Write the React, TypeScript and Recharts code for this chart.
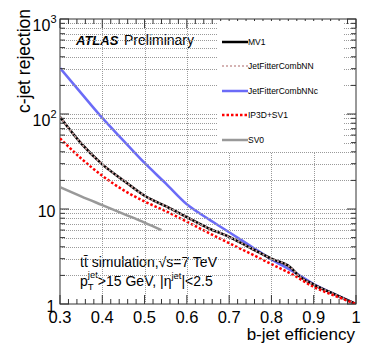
import { LineChart, Line, XAxis, YAxis, Legend } from 'recharts';

// b-jet efficiency (x) and c-jet rejection (y) for each tagger
const effMv1 = [0.3, 0.35, 0.4, 0.45, 0.5, 0.55, 0.6, 0.65, 0.7, 0.75, 0.8, 0.845, 0.867, 0.9, 0.95, 1.0];
const rejMv1 = [93, 49, 29.5, 20, 13.8, 10.7, 8.2, 6.3, 5.1, 3.9, 3.0, 2.43, 1.94, 1.6, 1.26, 1.0];

const effJfNN = [0.3, 0.35, 0.4, 0.45, 0.5, 0.55, 0.6, 0.65, 0.7, 0.75, 0.8, 0.845, 0.867, 0.9, 0.95, 1.0];
const rejJfNN = [93, 49, 29.5, 20, 13.8, 10.7, 8.2, 6.3, 5.1, 3.9, 3.0, 2.43, 1.94, 1.6, 1.26, 1.0];

const effJfNNc = [0.3, 0.35, 0.4, 0.45, 0.5, 0.55, 0.6, 0.65, 0.7, 0.75, 0.8, 0.85, 0.9, 0.95, 1.0];
const rejJfNNc = [305, 166, 91, 52.5, 30.5, 18.6, 11.2, 7.9, 5.7, 4.1, 2.95, 2.22, 1.62, 1.26, 1.0];

const effIp3d = [0.3, 0.35, 0.4, 0.45, 0.5, 0.55, 0.6, 0.65, 0.7, 0.75, 0.8, 0.85, 0.9, 0.95, 1.0];
const rejIp3d = [55.5, 34, 22.4, 15.8, 12, 9.5, 7.35, 5.65, 4.37, 3.4, 2.63, 2.04, 1.51, 1.22, 1.0];

const effSv0 = [0.3, 0.35, 0.4, 0.45, 0.5, 0.54];
const rejSv0 = [17, 13.6, 11, 8.9, 7.2, 6.0];

const xMajor = [0.3, 0.4, 0.5, 0.6, 0.7, 0.8, 0.9, 1.0];
const xGrid = [0.4, 0.5, 0.6, 0.7, 0.8, 0.9];
const yMajor = [1, 10, 100, 1000];
const yGrid = [2, 3, 4, 5, 6, 7, 8, 9, 10, 20, 30, 40, 50, 60, 70, 80, 90, 100, 200, 300, 400, 500, 600, 700, 800, 900];

// minor ticks every 0.02 in x, 1..9 per decade in y
const xTicks: number[] = [];
for (let i = 0; i <= 35; i++) xTicks.push(Math.round((0.3 + i * 0.02) * 1000) / 1000);
const yTicks: number[] = [];
[1, 10, 100].forEach((d) => [1, 2, 3, 4, 5, 6, 7, 8, 9].forEach((m) => yTicks.push(d * m)));
yTicks.push(1000);

const toPoints = (xs: number[], ys: number[]) => xs.map((x, i) => ({ x, y: ys[i] }));

const series = [
  { name: 'MV1', data: toPoints(effMv1, rejMv1), color: '#000000', width: 2.5, dash: undefined, legendWidth: 2.5 },
  { name: 'JetFitterCombNN', data: toPoints(effJfNN, rejJfNN), color: '#c79a9a', width: 2, dash: '2 2', legendWidth: 1.3 },
  { name: 'JetFitterCombNNc', data: toPoints(effJfNNc, rejJfNNc), color: '#6b6bf7', width: 2.5, dash: undefined, legendWidth: 2.5 },
  { name: 'IP3D+SV1', data: toPoints(effIp3d, rejIp3d), color: '#ff0000', width: 2.5, dash: '2.5 2', legendWidth: 2.5 },
  { name: 'SV0', data: toPoints(effSv0, rejSv0), color: '#999999', width: 2.5, dash: undefined, legendWidth: 2.5 },
];
const drawOrder = ['SV0', 'JetFitterCombNNc', 'MV1', 'JetFitterCombNN', 'IP3D+SV1'];

const FRAME = '#333';
const GRID = '#9a9a9a';
const isMajorX = (v: number) => xMajor.some((m) => Math.abs(m - v) < 1e-6);
const isMajorY = (v: number) => yMajor.includes(v);

// plot box: x 60..356, y 19..304
const PLOT_TOP = 19;
const PLOT_BOTTOM = 304;
const PLOT_LEFT = 60;
const PLOT_RIGHT = 356;

function XTick(props: any) {
  const { x, payload, top } = props;
  const v = payload.value;
  const major = isMajorX(v);
  const len = major ? 9 : 5;
  const y = top ? PLOT_TOP : PLOT_BOTTOM;
  return (
    <g>
      <line x1={x} x2={x} y1={y} y2={top ? y + len : y - len} stroke={FRAME} strokeWidth={1} />
      {!top && major && (
        <text x={x} y={y + 19} textAnchor="middle" fontSize={16.5} fill="#000">
          {v === 1 ? '1' : v.toFixed(1)}
        </text>
      )}
    </g>
  );
}

function YTick(props: any) {
  const { y, payload, right } = props;
  const v = payload.value;
  const major = isMajorY(v);
  const len = major ? 9 : 5;
  const x = right ? PLOT_RIGHT : PLOT_LEFT;
  let label = null;
  if (!right && major) {
    if (v >= 100) {
      label = (
        <text x={56.5} y={y + 12} textAnchor="end" fontSize={16} fill="#000">
          <tspan>10</tspan>
          <tspan dy={-8} fontSize={11}>{v === 100 ? '2' : '3'}</tspan>
        </text>
      );
    } else {
      label = (
        <text x={55.5} y={y + 7.5} textAnchor="end" fontSize={16} fill="#000">
          {String(v)}
        </text>
      );
    }
  }
  return (
    <g>
      <line x1={x} x2={right ? x - len : x + len} y1={y} y2={y} stroke={FRAME} strokeWidth={1} />
      {label}
    </g>
  );
}

// dotted grid drawn through the axes' own scales
function GridXTick(props: any) {
  const { x } = props;
  const gx = Math.round(x) + 0.5;
  return <path d={`M${gx},${PLOT_TOP}V${PLOT_BOTTOM}`} stroke={GRID} strokeWidth={1} strokeDasharray="1 1" fill="none" />;
}

function GridYTick(props: any) {
  const { y } = props;
  const gy = Math.round(y) + 0.5;
  return <path d={`M${PLOT_LEFT},${gy}H${PLOT_RIGHT}`} stroke={GRID} strokeWidth={1} strokeDasharray="1 1" fill="none" />;
}

function LegendBox() {
  return (
    <div style={{ background: '#fff', width: 126, height: 131, position: 'relative' }}>
      {series.map((s, i) => (
        <div key={s.name} style={{ position: 'absolute', left: 0, top: i * 24.4, height: 0 }}>
          <svg width={30} height={6} style={{ position: 'absolute', left: 4, top: 18 }}>
            <line
              x1={1}
              x2={27}
              y1={3}
              y2={3}
              stroke={s.color}
              strokeWidth={s.legendWidth}
              strokeDasharray={s.dash}
            />
          </svg>
          <span
            style={{
              position: 'absolute',
              left: 31,
              top: 15,
              fontSize: 8.5,
              lineHeight: '12px',
              whiteSpace: 'nowrap',
              color: '#000',
            }}
          >
            {s.name}
          </span>
        </div>
      ))}
    </div>
  );
}

const axisCommon = {
  type: 'number' as const,
  interval: 0 as const,
  tickSize: 0,
  tickMargin: 0,
  tickLine: false,
  axisLine: false,
  allowDataOverflow: true,
};

export default function App() {
  return (
    <div
      style={{
        position: 'absolute',
        left: 0,
        top: 0,
        width: 374,
        height: 363,
        background: '#fff',
        fontFamily: '"Liberation Sans", Arial, sans-serif',
      }}
    >
      <LineChart width={374} height={363} margin={{ top: 18, right: 17, bottom: 57, left: 58 }}>
        <XAxis {...axisCommon} xAxisId="gridX" dataKey="x" domain={[0.3, 1]} ticks={xGrid} height={1} tick={(p: any) => <GridXTick {...p} />} />
        <YAxis {...axisCommon} yAxisId="gridY" dataKey="y" scale="log" domain={[1, 1000]} ticks={yGrid} width={1} tick={(p: any) => <GridYTick {...p} />} />
        <XAxis {...axisCommon} dataKey="x" domain={[0.3, 1]} ticks={xTicks} height={1} tick={(p: any) => <XTick {...p} />} />
        <XAxis
          {...axisCommon}
          xAxisId="top"
          orientation="top"
          dataKey="x"
          domain={[0.3, 1]}
          ticks={xTicks}
          height={1}
          tick={(p: any) => <XTick {...p} top />}
        />
        <YAxis {...axisCommon} dataKey="y" scale="log" domain={[1, 1000]} ticks={yTicks} width={1} tick={(p: any) => <YTick {...p} />} />
        <YAxis
          {...axisCommon}
          yAxisId="right"
          orientation="right"
          dataKey="y"
          scale="log"
          domain={[1, 1000]}
          ticks={yTicks}
          width={1}
          tick={(p: any) => <YTick {...p} right />}
        />
        {drawOrder.map((n) => {
          const s = series.find((q) => q.name === n)!;
          return (
            <Line
              key={s.name}
              name={s.name}
              data={s.data}
              dataKey="y"
              type="monotone"
              stroke={s.color}
              strokeWidth={s.width}
              strokeDasharray={s.dash}
              dot={false}
              activeDot={false}
              isAnimationActive={false}
            />
          );
        })}
        <Legend
          layout="vertical"
          align="center"
          verticalAlign="middle"
          wrapperStyle={{ left: 217, top: 21, width: 126, height: 131 }}
          content={() => <LegendBox />}
        />
        <g>
          <rect x={PLOT_LEFT} y={PLOT_TOP} width={PLOT_RIGHT - PLOT_LEFT} height={PLOT_BOTTOM - PLOT_TOP} fill="none" stroke={FRAME} strokeWidth={1} />
          <text x={76} y={44.5} fontSize={13} fontWeight="bold" fontStyle="italic" fill="#000">
            ATLAS
          </text>
          <text x={124} y={44.5} fontSize={14} fill="#000">
            Preliminary
          </text>
          <text x={80} y={267} fontSize={14} fill="#000">
            {'t\u0074\u0304 simulation,\u221As=7 TeV'}
          </text>
          <text x={80} y={286} fontSize={14} fill="#000">
            <tspan>p</tspan>
            <tspan dy={4} fontSize={9.5}>T</tspan>
            <tspan dx={-5.8} dy={-12} fontSize={9.5}>jet</tspan>
            <tspan dy={8}>{'>15 GeV, |\u03B7'}</tspan>
            <tspan dy={-7} fontSize={9.5}>jet</tspan>
            <tspan dy={7}>{'|<2.5'}</tspan>
          </text>
          <text x={355} y={340} fontSize={17} textAnchor="end" fill="#000">
            b-jet efficiency
          </text>
          <text x={30} y={9} fontSize={17.5} textAnchor="end" fill="#000" transform="rotate(-90 30 9)">
            c-jet rejection
          </text>
        </g>
      </LineChart>
    </div>
  );
}
